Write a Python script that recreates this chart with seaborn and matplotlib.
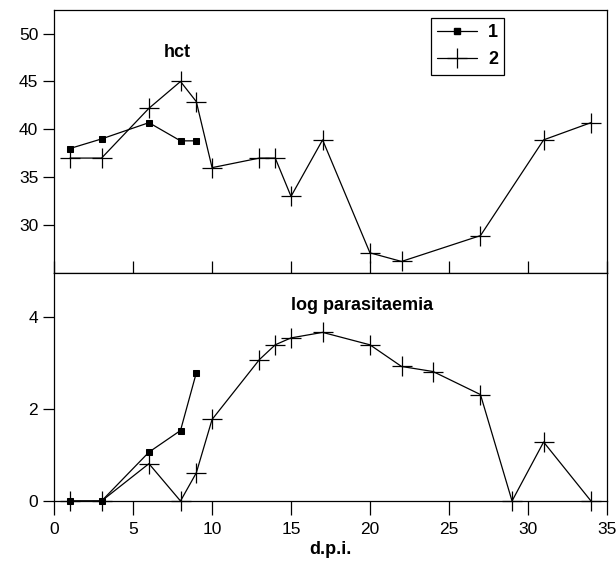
import matplotlib
matplotlib.use("Agg")
import matplotlib.pyplot as plt
import seaborn as sns
import pandas as pd
from matplotlib.lines import Line2D

# ---- data ----
hct1_x = [1, 3, 6, 8, 9]
hct1_y = [38.0, 39.0, 40.7, 38.8, 38.8]
hct2_x = [1, 3, 6, 8, 9, 10, 13, 14, 15, 17, 20, 22, 27, 31, 34]
hct2_y = [37.0, 37.0, 42.2, 45.0, 42.9, 36.0, 37.0, 37.0, 33.0, 38.9, 27.1, 26.2, 28.9, 38.9, 40.7]

par1_x = [1, 3, 6, 8, 9]
par1_y = [0.0, 0.0, 1.06, 1.53, 2.78]
par2_x = [1, 3, 6, 8, 9, 10, 13, 14, 15, 17, 20, 22, 24, 27, 29, 31, 34]
par2_y = [0.0, 0.0, 0.81, 0.0, 0.61, 1.77, 3.07, 3.39, 3.54, 3.66, 3.39, 2.92, 2.81, 2.31, 0.0, 1.28, 0.0]

x_ticks = [0, 5, 10, 15, 20, 25, 30, 35]
hct_ticks = [30, 35, 40, 45, 50]
par_ticks = [0, 2, 4]
series_labels = ["1", "2"]

sns.set_style("ticks")
plt.rcParams['font.family'] = ['Liberation Sans', 'DejaVu Sans']
plt.rcParams['text.color'] = 'black'
plt.rcParams['axes.labelcolor'] = 'black'
plt.rcParams['xtick.color'] = 'black'
plt.rcParams['ytick.color'] = 'black'

fig = plt.figure(figsize=(6.16, 5.71), dpi=100)
ax1 = fig.add_axes([0.088, 0.522, 0.897, 0.461])
ax2 = fig.add_axes([0.088, 0.1226, 0.897, 0.3994])

kw1 = dict(color="black", marker="s", markersize=5, linewidth=0.9, sort=False,
           markeredgecolor="black", legend=False)
kw2 = dict(color="black", marker="+", markersize=15, markeredgewidth=0.9,
           markeredgecolor="black", linewidth=0.9, sort=False, legend=False)

d = pd.DataFrame({"x": hct1_x, "y": hct1_y})
sns.lineplot(data=d, x="x", y="y", ax=ax1, **kw1)
d = pd.DataFrame({"x": hct2_x, "y": hct2_y})
sns.lineplot(data=d, x="x", y="y", ax=ax1, **kw2)
d = pd.DataFrame({"x": par1_x, "y": par1_y})
sns.lineplot(data=d, x="x", y="y", ax=ax2, clip_on=False, **kw1)
d = pd.DataFrame({"x": par2_x, "y": par2_y})
sns.lineplot(data=d, x="x", y="y", ax=ax2, clip_on=False, **kw2)

for ax in (ax1, ax2):
    ax.set_xlim(0, 35)
    ax.set_xticks(x_ticks)
    for s in ax.spines.values():
        s.set_visible(True)
        s.set_linewidth(0.9)
        s.set_color("black")
    ax.set_ylabel("")
    ax.set_xlabel("")

ax1.set_ylim(25, 52.5)
ax1.set_yticks(hct_ticks)
ax1.tick_params(axis="x", direction="in", length=9, width=0.9, labelbottom=False)
ax1.tick_params(axis="y", direction="out", length=8, width=0.9, labelsize=12.5)

ax2.set_ylim(0, 4.95)
ax2.set_yticks(par_ticks)
ax2.tick_params(axis="x", direction="out", length=10, width=0.9, labelsize=12.5, pad=5)
ax2.tick_params(axis="y", direction="out", length=8, width=0.9, labelsize=12.5)
ax2.set_xlabel("d.p.i.", fontsize=13, fontweight="bold", labelpad=3)

ax1.text(7.8, 48, "hct", fontsize=13, fontweight="bold", ha="center", va="center")
ax2.text(19.5, 4.24, "log parasitaemia", fontsize=13, fontweight="bold", ha="center", va="center")

handles = [Line2D([], [], color="black", marker="s", markersize=5, linewidth=0.9),
           Line2D([], [], color="black", marker="+", markersize=15, markeredgewidth=0.9, linewidth=0.9)]
leg = ax1.legend(handles, series_labels, loc="upper left", bbox_to_anchor=(0.682, 0.968),
                 borderaxespad=0, frameon=True, fancybox=False, edgecolor="black", framealpha=1,
                 prop={"weight": "bold", "size": 13}, handlelength=2.2, borderpad=0.35,
                 labelspacing=0.55, handletextpad=0.6)
leg.get_frame().set_linewidth(0.9)

fig.savefig("out.png", dpi=100, facecolor="white")
